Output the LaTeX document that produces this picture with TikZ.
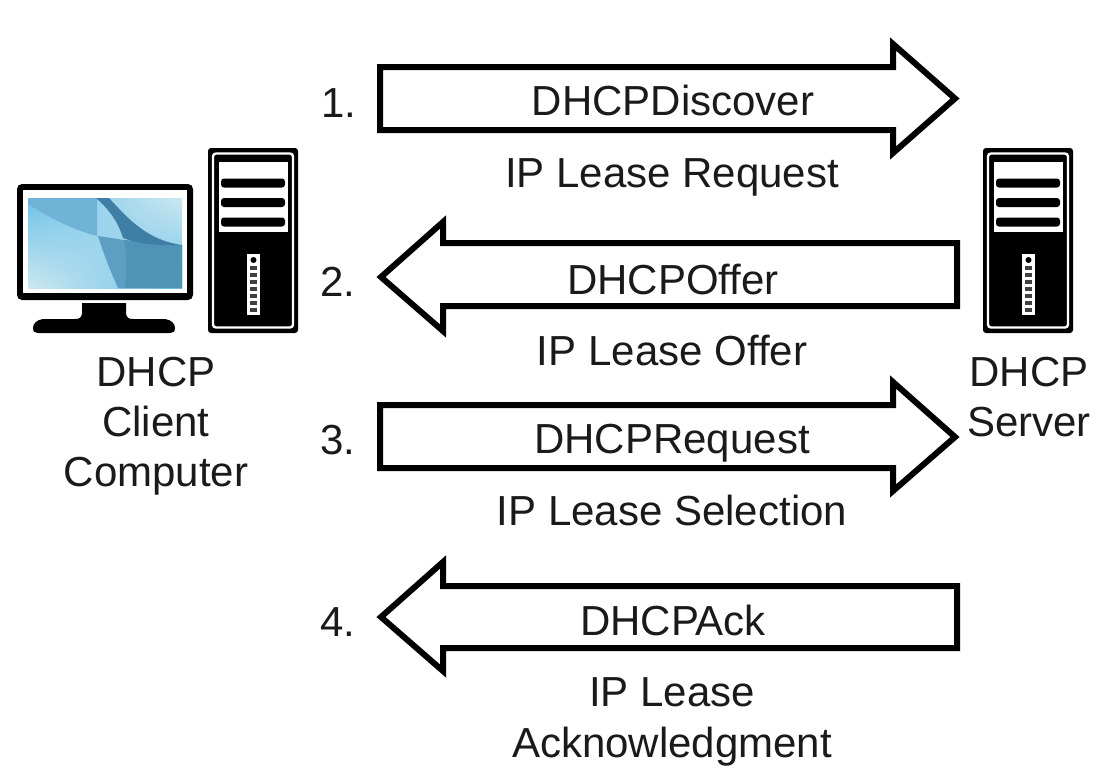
\documentclass[tikz,border=0pt]{standalone}
\usepackage{fontspec}
\usetikzlibrary{shadings}
\setmainfont{Liberation Sans}
\definecolor{scrA}{HTML}{6FB3D6}
\definecolor{scrB}{HTML}{3F7FA6}
\definecolor{scrC}{HTML}{5C9FC2}
\definecolor{scrD}{HTML}{4F93B7}
\definecolor{scrLight}{HTML}{CDE8F0}
\definecolor{scrMid}{HTML}{6CC1E8}
\definecolor{txt}{HTML}{1A1A1A}
\tikzset{
  blockarrow/.style={draw=black,fill=white,line width=6pt,miter limit=10},
  lbl/.style={inner sep=0pt,anchor=base,text=txt,font=\fontsize{42}{42}\selectfont},
}
\newcommand{\towerat}[1]{%
  \begin{scope}[shift={(#1,0)}]
    \fill[black,rounded corners=3pt] (208,148) rectangle (298,333);
    \draw[white,line width=2.4pt,rounded corners=3pt] (213,153.5) rectangle (293,327.5);
    \fill[white] (219,162) rectangle (288,232);
    \foreach \yy in {183,202.5,222}{
      \fill[black,rounded corners=3pt] (221,\yy-4.5) rectangle (285,\yy+4.5);
    }
    \fill[white] (247,254) rectangle (260,315);
    \fill[black] (253.5,260) circle (3pt);
    \foreach \yy in {268,275,282,289,296,303,310}{
      \fill[black!75] (250,\yy-2) rectangle (257,\yy+2);
    }
  \end{scope}}
\begin{document}
\begin{tikzpicture}[x=1pt,y=-1pt]
\useasboundingbox (0,0) rectangle (1098,772);
\fill[white] (0,0) rectangle (1098,772);
% monitor
\fill[black,rounded corners=5pt] (17,184) rectangle (193,300);
\fill[white] (23,190) rectangle (187,293);
\begin{scope}
  \clip (28,198) rectangle (182,288);
  \shade[lower left=scrLight,lower right=scrMid,upper left=scrMid,upper right=scrLight] (28,198) rectangle (182,288);
  \fill[scrA] (28,198) -- (97,198) -- (97,236) .. controls (70,229) and (45,215) .. (28,204) -- cycle;
  \fill[scrC] (98,236) -- (124,240) -- (167,245) -- (182,245) -- (182,288) -- (118,288) .. controls (110,270) and (104,255) .. (98,236) -- cycle;
  \fill[scrD] (124,240) -- (167,245) -- (182,245) -- (182,288) -- (118,288) -- (125,288) .. controls (127,270) and (127,255) .. (124,240) -- cycle;
  \fill[scrB] (96,198) -- (109,198) .. controls (125,215) and (145,240) .. (182,245) -- (167,245) .. controls (145,245) and (130,241) .. (123,238) .. controls (119,225) and (112,212) .. (96,198) -- cycle;
\end{scope}
\fill[black] (82,303) -- (126,303) -- (126,314) .. controls (127,318) and (129,319) .. (133,319) -- (165,319) .. controls (172,320) and (175,324) .. (175,328) .. controls (175,332) and (173,333) .. (170,333) -- (38,333) .. controls (35,333) and (33,332) .. (33,328) .. controls (33,324) and (36,320) .. (43,319) -- (75,319) .. controls (79,319) and (81,318) .. (82,314) -- cycle;
% towers
\towerat{0}
\towerat{775}
% arrows
\draw[blockarrow] (380,67) -- (893,67) -- (893,44) -- (955,98.5) -- (893,153) -- (893,130) -- (380,130) -- cycle;
\draw[blockarrow] (957,243) -- (443,243) -- (443,222) -- (381,277) -- (443,331) -- (443,306) -- (957,306) -- cycle;
\draw[blockarrow] (380,405) -- (893,405) -- (893,382) -- (955,437) -- (893,491) -- (893,468) -- (380,468) -- cycle;
\draw[blockarrow] (957,586) -- (443,586) -- (443,562) -- (381,617) -- (443,671) -- (443,648) -- (957,648) -- cycle;
% labels
\node[lbl] (n1) at (339,117) {1.};
\node[lbl] (n2) at (338,296) {2.};
\node[lbl] (n3) at (338,454) {3.};
\node[lbl] (n4) at (338,636) {4.};
\node[lbl] (a1) at (673,115) {DHCPDiscover};
\node[lbl] (b1) at (672,187) {IP Lease Request};
\node[lbl] (a2) at (673,294) {DHCPOffer};
\node[lbl] (b2) at (672,365) {IP Lease Offer};
\node[lbl] (a3) at (672,453) {DHCPRequest};
\node[lbl] (b3) at (672,525) {IP Lease Selection};
\node[lbl] (a4) at (673,635) {DHCPAck};
\node[lbl] (b4) at (672,706) {IP Lease};
\node[lbl] (c4) at (672,757) {Acknowledgment};
\node[lbl] (cl1) at (156,386) {DHCP};
\node[lbl] (cl2) at (156,436) {Client};
\node[lbl] (cl3) at (156,486) {Computer};
\node[lbl] (sv1) at (1029,386) {DHCP};
\node[lbl] (sv2) at (1029,436) {Server};
\end{tikzpicture}
\end{document}
